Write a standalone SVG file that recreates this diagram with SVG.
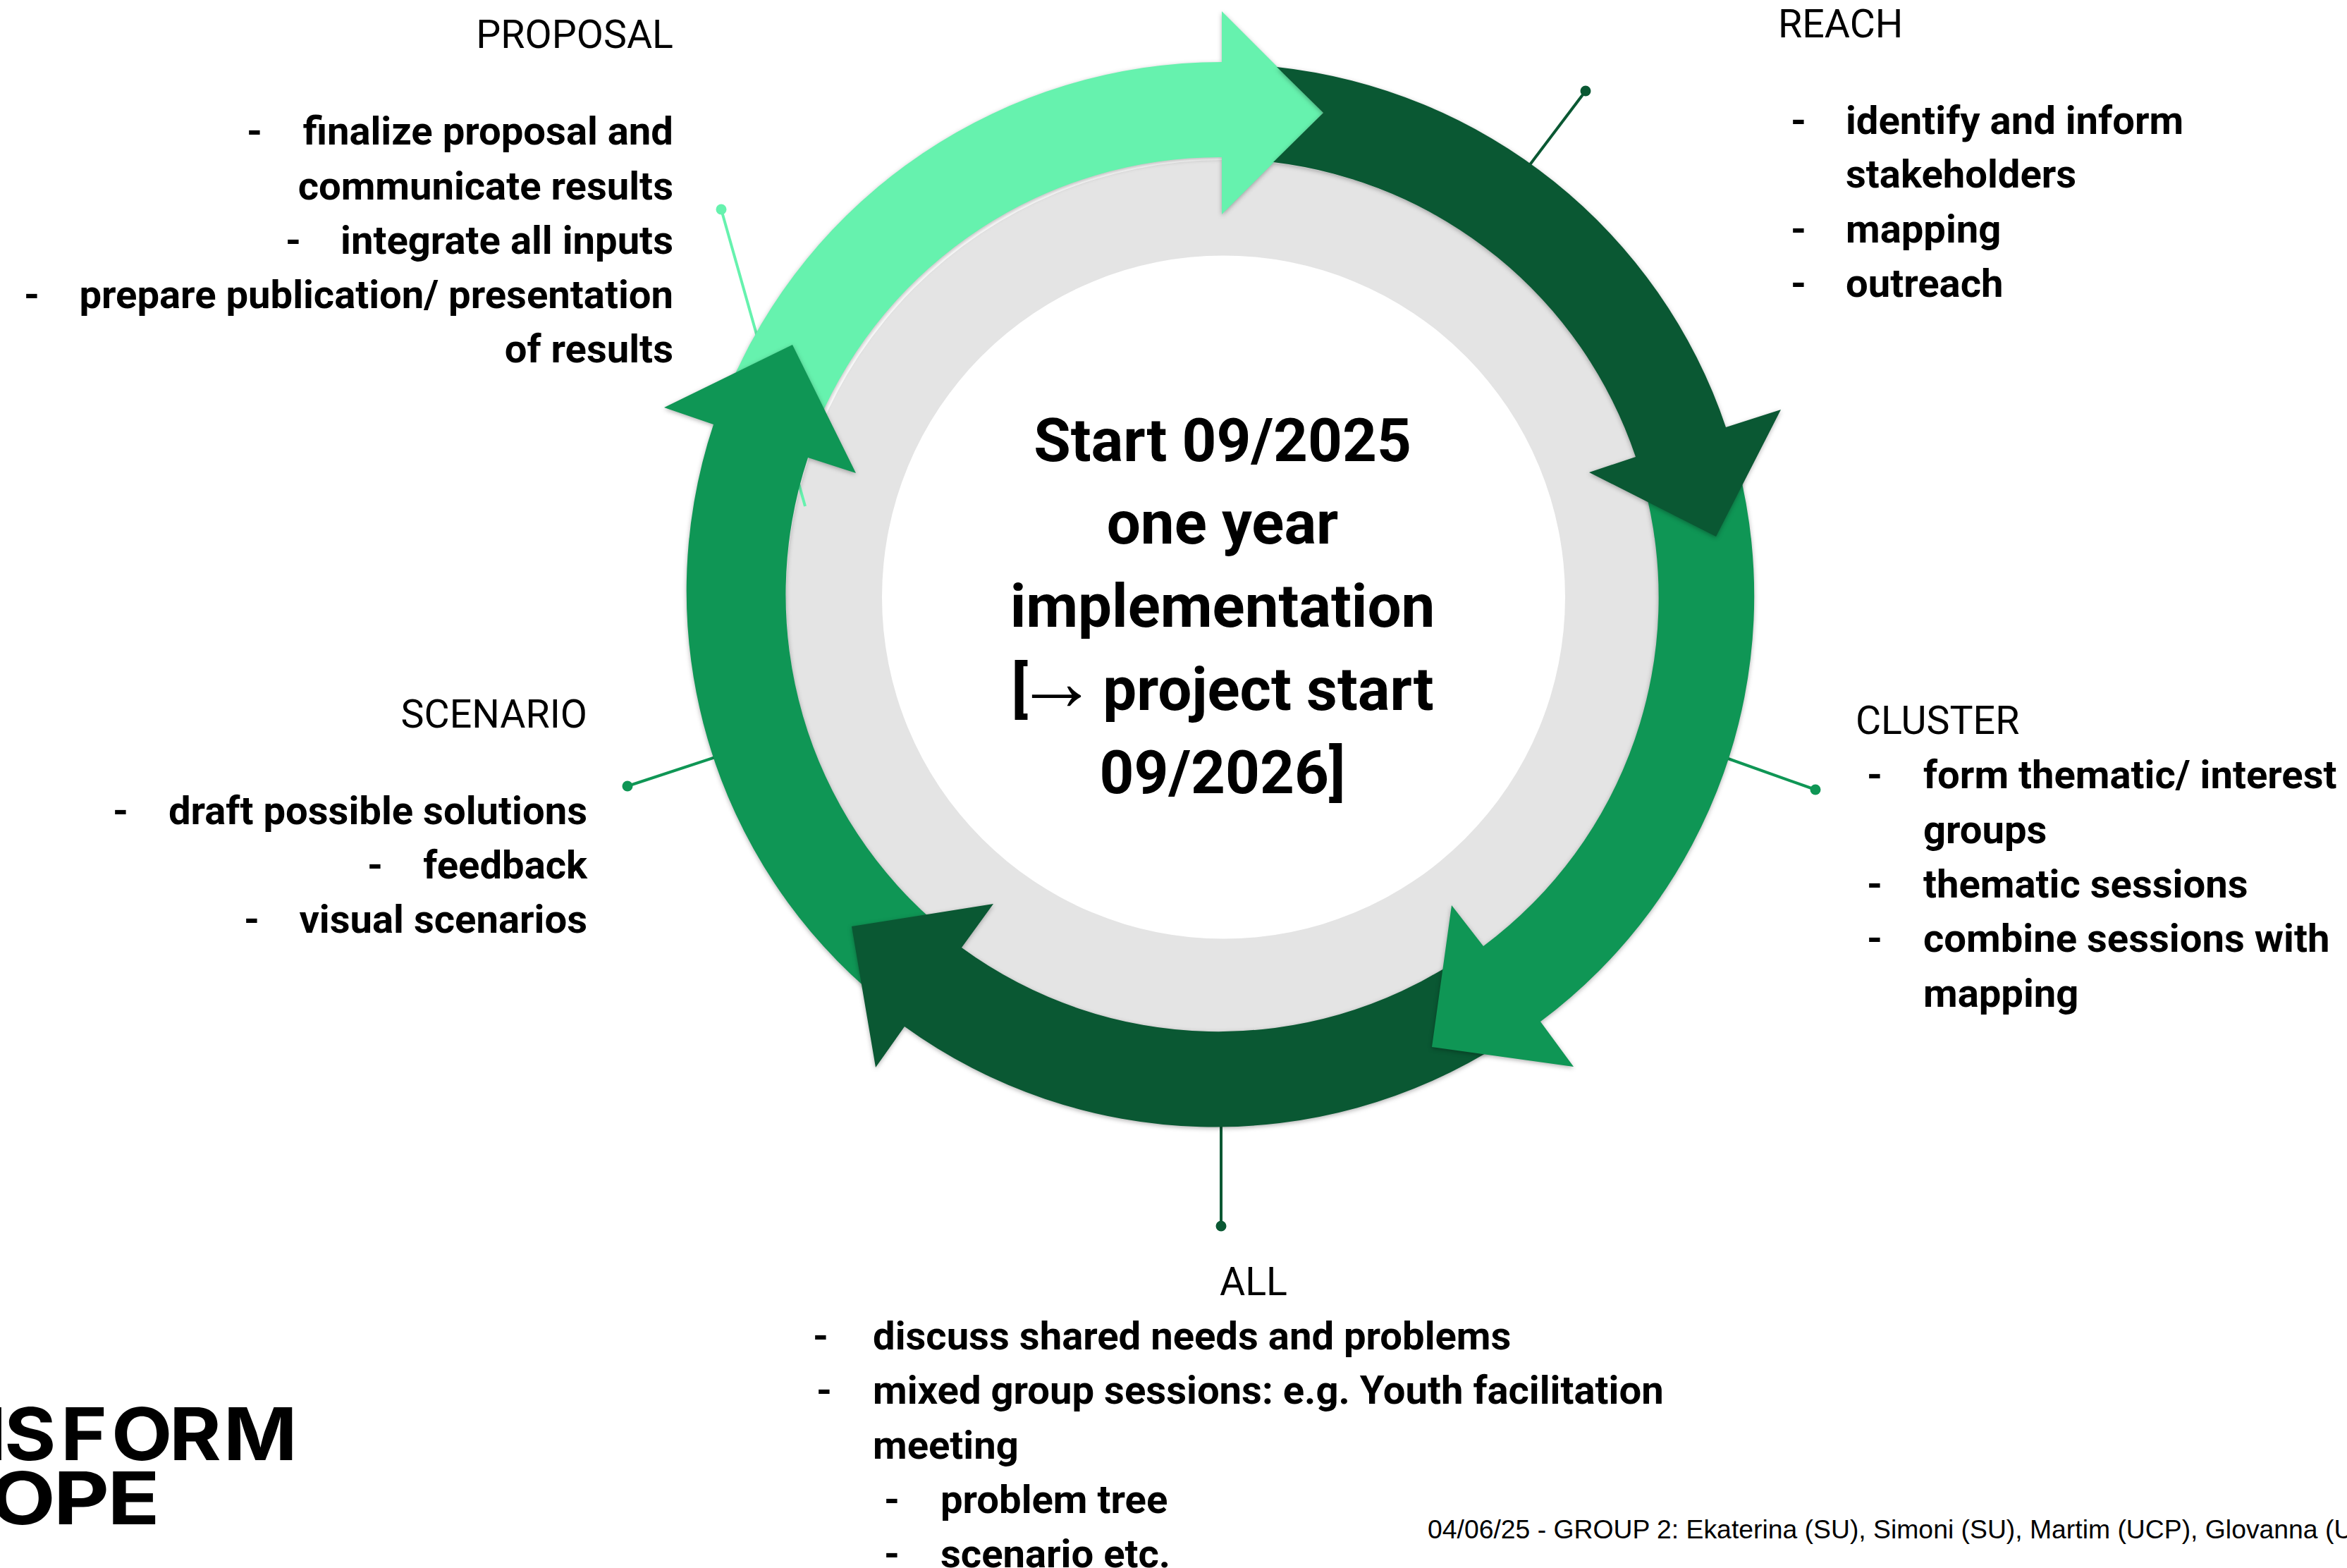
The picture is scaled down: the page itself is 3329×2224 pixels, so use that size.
<svg xmlns="http://www.w3.org/2000/svg" width="3329" height="2224" viewBox="0 0 3329 2224">
<style>
text{font-family:Roboto,"Liberation Sans",sans-serif;fill:#000}
.h{font-size:55.500px;font-weight:400}
.b{font-size:56.2px;font-weight:700}
.d{font-size:56px;font-weight:700}
.e{text-anchor:end}
.c{font-size:85.3px;font-weight:700;text-anchor:middle}
.ar{font-family:"Liberation Serif",serif;font-weight:400;font-size:117px}
.f{font-family:"Liberation Sans",Arial,sans-serif;font-size:37.33px}
.l{font-family:Inter,"Liberation Sans",sans-serif;font-size:103px;font-weight:700}
.arrow{filter:url(#soft)}
.ln{fill:none;stroke-width:4}
</style>
<defs>
<filter id="soft" x="-10%" y="-10%" width="120%" height="120%" color-interpolation-filters="sRGB"><feDropShadow dx="0" dy="2" stdDeviation="3" flood-color="#000" flood-opacity="0.3"/></filter>
<marker id="dotL" markerUnits="userSpaceOnUse" markerWidth="18" markerHeight="18" refX="9" refY="9"><circle cx="9" cy="9" r="7.5" fill="#66F2AE"/></marker>
<marker id="dotM" markerUnits="userSpaceOnUse" markerWidth="18" markerHeight="18" refX="9" refY="9"><circle cx="9" cy="9" r="7.5" fill="#0F9655"/></marker>
<marker id="dotD" markerUnits="userSpaceOnUse" markerWidth="18" markerHeight="18" refX="9" refY="9"><circle cx="9" cy="9" r="7.5" fill="#0A5833"/></marker>
</defs>
<rect width="3329" height="2224" fill="#fff"/>
<g id="ring"><path fill="#E4E4E4" fill-rule="evenodd" d="M1115,847a620,620 0 1,0 1240,0a620,620 0 1,0 -1240,0ZM1251,847a484.500,484.500 0 1,1 969,0a484.500,484.500 0 1,1 -969,0Z"/></g>
<g id="connectors">
<path class="ln" stroke="#66F2AE" marker-start="url(#dotL)" d="M1023,297L1142,718"/>
<path class="ln" stroke="#0A5833" marker-start="url(#dotD)" d="M2249,129L2150,260"/>
<path class="ln" stroke="#0F9655" marker-start="url(#dotM)" d="M2575,1120L2440,1072"/>
<path class="ln" stroke="#0F9655" marker-start="url(#dotM)" d="M890,1115L1030,1069"/>
<path class="ln" stroke="#0A5833" marker-start="url(#dotD)" d="M1732,1739V1590"/>
</g>
<g id="proposal">
<path class="arrow" fill="#66F2AE" d="M1030,560A759,755 0 0 1 1733,88L1733,16L1877,160L1733,304L1733,223A620,620 0 0 0 1160,600Z"/>
<text class="h e" x="955" y="68">PROPOSAL</text>
<text class="d" x="350" y="205">-</text><text class="b e" x="955" y="205">finalize proposal and</text>
<text class="b e" x="955" y="283">communicate results</text>
<text class="d" x="405" y="360">-</text><text class="b e" x="955" y="360">integrate all inputs</text>
<text class="d" x="34" y="437">-</text><text class="b e" x="955" y="437">prepare publication/ presentation</text>
<text class="b e" x="955" y="514">of results</text>
</g>
<g id="scenario">
<path class="arrow" fill="#0F9655" d="M1250,1420A750,750 0 0 1 1012,602L942,578L1124,489L1214,671L1146,649A616,616 0 0 0 1340,1320Z"/>
<text class="h e" x="833" y="1032">SCENARIO</text>
<text class="d" x="160" y="1169">-</text><text class="b e" x="833" y="1169">draft possible solutions</text>
<text class="d" x="521" y="1246">-</text><text class="b e" x="833" y="1246">feedback</text>
<text class="d" x="346" y="1323">-</text><text class="b e" x="833" y="1323">visual scenarios</text>
</g>
<g id="all">
<path class="arrow" fill="#0A5833" d="M2130,1480A752,750 0 0 1 1283,1456L1242,1514L1208,1314L1409,1282L1364,1344A617,617 0 0 0 2070,1360Z"/>
<text class="h" x="1730" y="1837">ALL</text>
<text class="d" x="1153" y="1914">-</text><text class="b" x="1238" y="1914">discuss shared needs and problems</text>
<text class="d" x="1158" y="1991">-</text><text class="b" x="1238" y="1991">mixed group sessions: e.g. Youth facilitation</text>
<text class="b" x="1238" y="2069">meeting</text>
<text class="d" x="1254" y="2146">-</text><text class="b" x="1334" y="2146">problem tree</text>
<text class="d" x="1254" y="2223">-</text><text class="b" x="1334" y="2223">scenario etc.</text>
</g>
<g id="cluster">
<path class="arrow" fill="#0F9655" d="M2465,660A759,755 0 0 1 2185,1449L2232,1513L2031,1485L2059,1284L2104,1342A617,617 0 0 0 2331,685Z"/>
<text class="h" x="2632" y="1041">CLUSTER</text>
<text class="d" x="2648" y="1118">-</text><text class="b" x="2728" y="1118">form thematic/ interest</text>
<text class="b" x="2728" y="1196">groups</text>
<text class="d" x="2648" y="1273">-</text><text class="b" x="2728" y="1273">thematic sessions</text>
<text class="d" x="2648" y="1350">-</text><text class="b" x="2728" y="1350">combine sessions with</text>
<text class="b" x="2728" y="1428">mapping</text>
</g>
<g id="reach">
<path class="arrow" fill="#0A5833" d="M1811,95A759,755 0 0 1 2448,606L2526,581L2434,761L2254,670L2320,648A620,620 0 0 0 1806,230L1877,160Z"/>
<text class="h" x="2522" y="53">REACH</text>
<text class="d" x="2540" y="190">-</text><text class="b" x="2618" y="190">identify and inform</text>
<text class="b" x="2618" y="266">stakeholders</text>
<text class="d" x="2540" y="344">-</text><text class="b" x="2618" y="344">mapping</text>
<text class="d" x="2540" y="421">-</text><text class="b" x="2618" y="421">outreach</text>
</g>
<g id="center">
<text class="c" x="1734" y="654">Start 09/2025</text>
<text class="c" x="1734" y="771">one year</text>
<text class="c" x="1734" y="889">implementation</text>
<text class="c" x="1734" y="1007">[<tspan class="ar" dx="-18">→</tspan><tspan dx="-14"> project start</tspan></text>
<text class="c" x="1734" y="1125">09/2026]</text>
</g>
<g id="logo">
<text class="l" y="2071" transform="scale(1.09,1)"><tspan x="-70 5.500 78.900 145 220.200 290.800">NSFORM</tspan></text>
<text class="l" y="2162" transform="scale(1.19,1)"><tspan x="-13 63.600 128">OPE</tspan></text>
</g>
<g id="footer"><text class="f" x="2025" y="2182">04/06/25 - GROUP 2: Ekaterina (SU), Simoni (SU), Martim (UCP), Glovanna (U</text></g>
</svg>
